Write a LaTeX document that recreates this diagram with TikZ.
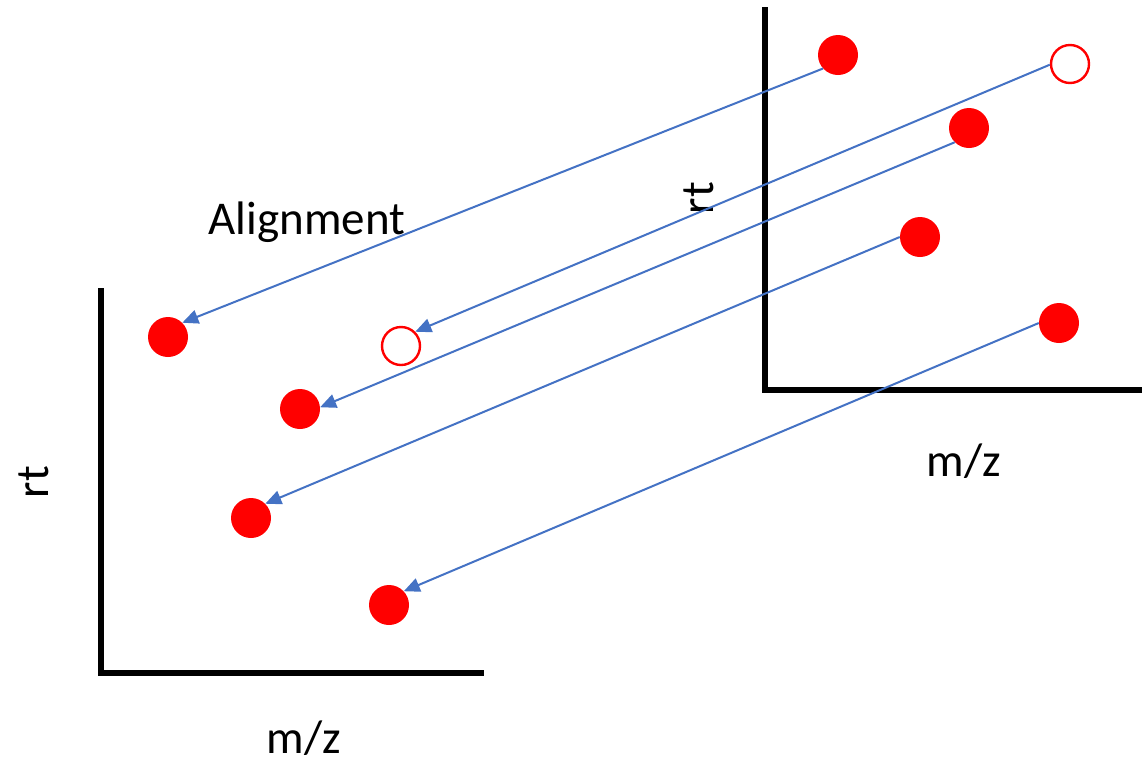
\documentclass[tikz,border=0pt]{standalone}
\usepackage{fontspec}
\setmainfont{Carlito}
\usetikzlibrary{arrows.meta}
\definecolor{dotred}{RGB}{255,0,0}
\definecolor{linkblue}{RGB}{68,114,196}
\tikzset{
  full/.style={circle,fill=dotred,minimum size=40pt,inner sep=0pt},
  hollow/.style={circle,draw=dotred,line width=2.4pt,fill=white,minimum size=38pt,inner sep=0pt},
  axis/.style={line width=6pt,black},
  link/.style={draw=linkblue,line width=2pt,-{Triangle[length=16pt,width=14pt]}},
  lab/.style={font=\fontsize{47}{56}\selectfont,inner sep=0pt}
}
\begin{document}
\begin{tikzpicture}[x=1pt,y=-1pt]
\useasboundingbox (0,0) rectangle (1142,769);
% axes
\draw[axis] (101,288) -- (101,673) -- (484,673);
\draw[axis] (765,7) -- (765,390) -- (1142,390);
% labels
\node[lab,anchor=base] (align) at (307,234) {Alignment};
\node[lab,anchor=base] (mzL) at (304,753) {m/z};
\node[lab,anchor=base] (mzR) at (964,476) {m/z};
\node[lab,rotate=90] (rtL) at (34,482) {rt};
\node[lab,rotate=90] (rtR) at (699,198) {rt};
% right dots
\node[full] (a) at (838,55) {};
\node[hollow] (b) at (1070,64) {};
\node[full] (c) at (969,128) {};
\node[full] (d) at (920,237) {};
\node[full] (e) at (1059,323) {};
% left dots
\node[full] (a2) at (168,337) {};
\node[hollow] (b2) at (401,346) {};
\node[full] (c2) at (300,409) {};
\node[full] (d2) at (251,518) {};
\node[full] (e2) at (389,605) {};
% links
\draw[link] (a.222) -- (a2.45);
\draw[link] (b.182) -- (b2.45);
\draw[link] (c.225) -- (c2.5);
\draw[link] (d.180) -- (d2.45);
\draw[link] (e.180) -- (e2.43);
\end{tikzpicture}
\end{document}
